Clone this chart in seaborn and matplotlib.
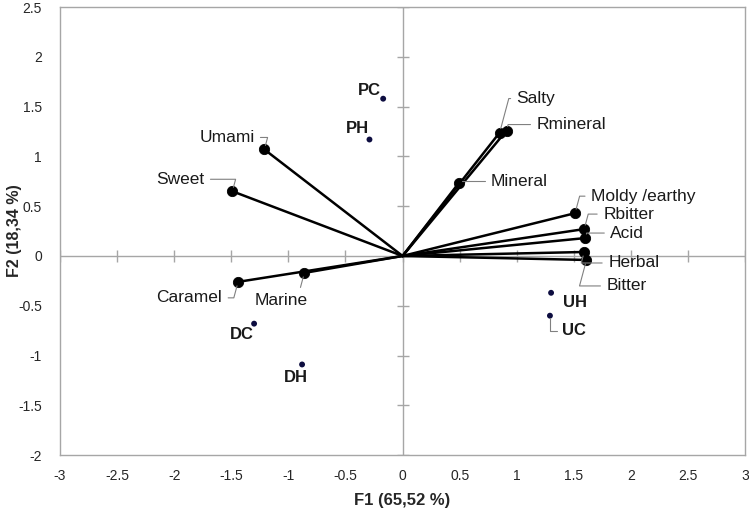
import numpy as np
import pandas as pd
import seaborn as sns
import matplotlib.pyplot as plt

# sensory attributes (vectors from origin)
var_names = ['Umami', 'Sweet', 'Caramel', 'Marine', 'Salty', 'Rmineral', 'Mineral',
             'Moldy /earthy', 'Rbitter', 'Acid', 'Herbal', 'Bitter']
var_f1 = [-1.21, -1.49, -1.44, -0.86, 0.85, 0.91, 0.49, 1.51, 1.59, 1.60, 1.59, 1.61]
var_f2 = [1.07, 0.65, -0.26, -0.17, 1.24, 1.26, 0.73, 0.43, 0.27, 0.18, 0.04, -0.04]

# samples
sample_names = ['PC', 'PH', 'UH', 'UC', 'DC', 'DH']
sample_f1 = [-0.17, -0.29, 1.30, 1.29, -1.30, -0.88]
sample_f2 = [1.58, 1.17, -0.37, -0.60, -0.68, -1.09]

vars_df = pd.DataFrame({'name': var_names, 'F1': var_f1, 'F2': var_f2})
samples_df = pd.DataFrame({'name': sample_names, 'F1': sample_f1, 'F2': sample_f2})

sns.set_style('white')
plt.rcParams['font.family'] = ['Liberation Sans', 'DejaVu Sans']

fig = plt.figure(figsize=(7.49, 5.09), dpi=100)
ax = fig.add_axes([0.080, 0.106, 0.915, 0.880])

# zero axes with cross ticks
ax.axhline(0, color='#a6a6a6', lw=1, zorder=1)
ax.axvline(0, color='#a6a6a6', lw=1, zorder=1)
xt = np.arange(-3, 3.01, 0.5)
yt = np.arange(-2, 2.51, 0.5)
ax.plot(xt, np.zeros_like(xt), ls='none', marker='|', ms=8, color='#a6a6a6', zorder=1)
ax.plot(np.zeros_like(yt), yt, ls='none', marker='_', ms=8, color='#a6a6a6', zorder=1)

# vectors
for _, r in vars_df.iterrows():
    ax.plot([0, r.F1], [0, r.F2], color='black', lw=1.8, zorder=2)
sns.scatterplot(data=vars_df, x='F1', y='F2', color='black', s=55,
                edgecolor='black', ax=ax, zorder=3)
sns.scatterplot(data=samples_df, x='F1', y='F2', color='#0d0d40', s=18,
                edgecolor='none', ax=ax, zorder=3)

# label offsets in pixels (dx, dy, alignment)
var_offsets = {
    'Umami': (-10, 12, 'right'),
    'Sweet': (-28, 12, 'right'),
    'Caramel': (-16, -16, 'right'),
    'Marine': (-50, -28, 'left'),
    'Salty': (17, 34, 'left'),
    'Rmineral': (30, 6, 'left'),
    'Mineral': (32, 2, 'left'),
    'Moldy /earthy': (16, 17, 'left'),
    'Rbitter': (19, 15, 'left'),
    'Acid': (25, 5, 'left'),
    'Herbal': (24, -11, 'left'),
    'Bitter': (20, -26, 'left'),
}
for _, r in vars_df.iterrows():
    dx, dy, ha = var_offsets[r['name']]
    ax.annotate(r['name'], (r.F1, r.F2), xytext=(dx, dy), textcoords='offset pixels',
                ha=ha, va='center', fontsize=12.5, color='#1a1a1a',
                arrowprops=dict(arrowstyle='-', color='#808080', lw=0.8,
                                shrinkA=2, shrinkB=3,
                                connectionstyle='angle,angleA=0,angleB=75,rad=0'))

sample_offsets = {
    'PC': (-2, 8, 'right', False),
    'PH': (0, 11, 'right', False),
    'UH': (12, -10, 'left', False),
    'UC': (12, -15, 'left', True),
    'DC': (0, -11, 'right', False),
    'DH': (6, -13, 'right', False),
}
for _, r in samples_df.iterrows():
    dx, dy, ha, lead = sample_offsets[r['name']]
    ap = dict(arrowstyle='-', color='#808080', lw=0.8, shrinkA=1, shrinkB=2,
              connectionstyle='angle,angleA=0,angleB=90,rad=0') if lead else None
    ax.annotate(r['name'], (r.F1, r.F2), xytext=(dx, dy), textcoords='offset pixels',
                ha=ha, va='center', fontsize=12, fontweight='bold', color='#1a1a1a',
                arrowprops=ap)

ax.set_xlim(-3, 3)
ax.set_ylim(-2, 2.5)
ax.set_xticks(xt)
ax.set_yticks(yt)
ax.set_xticklabels([f'{v:g}' for v in xt])
ax.set_yticklabels([f'{v:g}' for v in yt])
ax.tick_params(length=0, labelsize=10, labelcolor='#262626')
ax.tick_params(axis='y', pad=13)
ax.tick_params(axis='x', pad=10)
for s in ax.spines.values():
    s.set_color('#a6a6a6')
    s.set_linewidth(1)
ax.set_xlabel('F1 (65,52 %)', fontsize=12, fontweight='bold')
ax.set_ylabel('F2 (18,34 %)', fontsize=11.5, fontweight='bold')
ax.xaxis.set_label_coords(0.5, -0.085)
ax.yaxis.set_label_coords(-0.056, 0.5)

fig.savefig('out.png', dpi=100)
